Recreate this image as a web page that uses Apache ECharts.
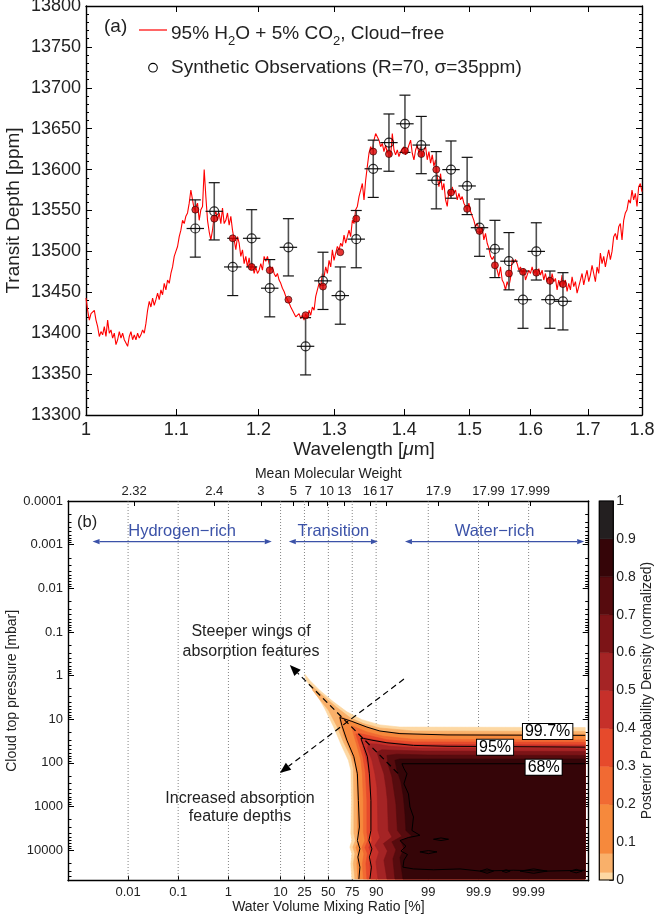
<!DOCTYPE html>
<html>
<head>
<meta charset="utf-8">
<script src="https://cdn.jsdelivr.net/npm/echarts@6/dist/echarts.min.js"></script>
<style>
html,body{margin:0;padding:0;background:#ffffff;}
#chart{width:654px;height:917px;}
</style>
</head>
<body>
<div id="chart"></div>
<script>
// ================= Panel (a): transmission spectrum =================
const wavelengthTicks = [1, 1.1, 1.2, 1.3, 1.4, 1.5, 1.6, 1.7, 1.8];
const depthRange = [13300, 13800];
const depthStep = 50;
// model spectrum, sampled uniformly in log(wavelength) between these limits
const specLambdaRange = [1.0, 1.8];
const specDepth = [
13443,13428,13416,13424,13426,13428,13416,13408,13396,13402,
13398,13408,13396,13416,13400,13404,13394,13400,13386,13392,
13402,13394,13400,13392,13388,13384,13396,13402,13392,13398,
13392,13400,13394,13398,13404,13400,13412,13428,13439,13432,
13443,13434,13441,13449,13441,13453,13447,13461,13453,13465,
13461,13473,13481,13494,13500,13506,13518,13526,13538,13534,
13543,13547,13559,13575,13563,13551,13555,13559,13538,13551,
13555,13600,13567,13538,13524,13514,13526,13543,13549,13538,
13547,13534,13553,13534,13538,13547,13532,13543,13526,13514,
13502,13518,13510,13494,13502,13485,13494,13481,13492,13477,
13485,13473,13481,13473,13477,13485,13477,13494,13488,13494,
13485,13477,13481,13473,13469,13473,13465,13461,13455,13451,
13445,13447,13437,13432,13428,13424,13420,13418,13424,13418,
13422,13416,13424,13418,13428,13422,13432,13428,13445,13453,
13461,13457,13473,13469,13481,13473,13489,13481,13502,13489,
13498,13506,13502,13510,13506,13520,13510,13518,13526,13518,
13538,13534,13551,13555,13567,13575,13583,13563,13587,
13604,13620,13628,13624,13636,13644,13646,13636,13628,13632,
13622,13630,13620,13628,13616,13644,13624,13618,13624,13616,
13622,13620,13628,13618,13624,13622,13636,13620,13612,13624,
13630,13620,13628,13616,13624,13628,13612,13622,13608,13618,
13604,13612,13591,13579,13595,13575,13583,13563,13555,13575,
13567,13579,13571,13575,13563,13571,13563,13567,13559,13555,
13551,13559,13549,13547,13538,13530,13534,13528,13522,13530,
13514,13522,13510,13504,13494,13490,13494,13483,13477,13469,
13481,13465,13461,13453,13463,13457,13467,13490,13486,13490,
13485,13477,13481,13473,13479,13465,13471,13477,13473,13481,
13473,13477,13471,13479,13471,13477,13465,13473,13463,13469,
13459,13473,13463,13467,13453,13465,13457,13471,13459,13465,
13451,13461,13453,13469,13457,13463,13449,13457,13465,13473,
13459,13469,13477,13463,13471,13483,13473,13463,13481,13473,
13498,13485,13494,13481,13492,13502,13490,13500,13518,13522,
13514,13530,13534,13514,13538,13547,13551,13563,13559,13575,
13563,13571,13555,13579,13583,13573
];
const obsLambda = [1.1225,1.1452,1.1678,1.1914,1.2144,1.2386,1.2613,1.2847,1.3084,1.3307,1.3548,1.3775,
                   1.4010,1.4254,1.4482,1.4709,1.4962,1.5159,1.5408,1.5638,1.5872,1.6097,1.6331,1.6557];
const obsDepth = [13528,13549,13481,13516,13455,13505,13384,13464,13446,13515,13601,13633,
                  13656,13630,13587,13600,13580,13529,13503,13488,13441,13500,13441,13439];
const obsSigma = [35,35,35,35,35,35,35,35,35,35,35,35,35,35,35,35,35,35,35,35,35,35,35,35];
const binnedModel = [13551,13540,13516,13481,13477,13441,13422,13457,13499,13540,13622,13619,
                     13623,13619,13600,13572,13552,13525,13483,13473,13475,13474,13464,13460];
const obsBinHalfWidthLog = 0.004;   // half bin width in log10(wavelength)

// ================= Panel (b): posterior of cloud top pressure vs water VMR =================
const wvmrTicks = [0.01, 0.1, 1, 10, 25, 50, 75, 90, 99, 99.9, 99.99];          // %
const mmwTickLabels = ['2.32','2.4','3','5','7','10','13','16','17','17.9','17.99','17.999'];
const mmwTickPos = [-3.88,-2.28,-1.35,-0.70,-0.40,-0.03,0.32,0.83,1.16,2.20,3.20,4.03]; // logit10 of VMR
const pressureTickExp = [-4,-3,-2,-1,0,1,2,3,4];
const pressureTickLabels = ['0.0001','0.001','0.01','0.1','1','10','100','1000','10000'];
const logitRange = [-5.2, 5.2];
const logPRange = [-4, 4.7];
const densityLevels = [0, 0.02, 0.07, 0.2, 0.3, 0.4, 0.5, 0.6, 0.7, 0.8, 0.9, 1];
const densityColors = ['#fdd8a3','#f9b06a','#f6893c','#f16a33','#e64a2c','#c6302a',
                       '#a52425','#7c1417','#560b0e','#350508','#231f20'];
// filled contour regions (x: log10(f/(1-f)) of water VMR, y: log10 pressure [mbar])
const fillLevel1 = [[5.13,1.19],[1.43,1.18],[1.03,1.13],[0.67,1.01],[0.37,0.83],[0.10,0.60],[-0.17,0.34],[-0.37,0.11],[-0.47,-0.03],[-0.45,0.09],[-0.35,0.27],[-0.20,0.50],[-0.07,0.76],[0.10,1.16],[0.27,1.62],[0.40,1.94],[0.45,2.17],[0.46,2.86],[0.45,3.62],[0.47,3.78],[0.43,3.93],[0.47,4.08],[0.45,4.31],[0.47,4.66],[5.13,4.66]];
const fillLevel2 = [[5.13,1.28],[1.70,1.27],[1.03,1.20],[0.70,1.10],[0.43,0.96],[0.17,0.73],[-0.10,0.47],[-0.30,0.27],[-0.35,0.22],[-0.31,0.34],[-0.17,0.55],[0.00,0.79],[0.17,1.16],[0.31,1.54],[0.45,1.86],[0.50,2.13],[0.51,2.86],[0.51,3.62],[0.54,3.78],[0.49,3.93],[0.53,4.08],[0.50,4.31],[0.53,4.66],[5.13,4.66]];
const fillLevel3 = [[5.13,1.35],[1.70,1.34],[1.03,1.28],[0.70,1.15],[0.40,1.01],[0.22,0.92],[0.23,1.04],[0.31,1.37],[0.45,1.75],[0.54,2.06],[0.57,2.32],[0.58,2.86],[0.58,3.59],[0.61,3.78],[0.55,3.94],[0.59,4.08],[0.57,4.31],[0.59,4.66],[5.13,4.66]];
const fillLevel4 = [[5.13,1.47],[1.70,1.46],[1.10,1.39],[0.77,1.29],[0.53,1.18],[0.47,1.16],[0.50,1.33],[0.58,1.64],[0.65,1.94],[0.68,2.25],[0.70,2.86],[0.70,3.59],[0.73,3.78],[0.67,3.94],[0.71,4.08],[0.68,4.31],[0.70,4.66],[5.13,4.66]];
const fillLevel5 = [[5.13,1.53],[1.70,1.52],[1.17,1.47],[0.83,1.38],[0.63,1.33],[0.55,1.34],[0.62,1.60],[0.69,1.86],[0.74,2.21],[0.77,2.86],[0.77,3.59],[0.79,3.78],[0.73,3.94],[0.78,4.08],[0.75,4.31],[0.77,4.66],[5.13,4.66]];
const fillLevel6 = [[5.13,1.59],[1.70,1.58],[1.17,1.53],[0.87,1.46],[0.70,1.42],[0.65,1.47],[0.71,1.71],[0.78,2.02],[0.82,2.32],[0.85,2.86],[0.85,3.59],[0.87,3.78],[0.81,3.94],[0.86,4.08],[0.83,4.31],[0.85,4.66],[5.13,4.66]];
const fillLevel7 = [[5.13,1.67],[1.83,1.66],[1.23,1.62],[0.97,1.57],[0.80,1.56],[0.78,1.67],[0.87,1.94],[0.93,2.25],[0.97,2.55],[0.98,2.86],[0.99,3.55],[1.03,3.71],[0.93,3.89],[1.01,4.04],[0.95,4.27],[0.99,4.66],[5.13,4.66]];
const fillLevel8 = [[5.13,1.74],[1.90,1.73],[1.30,1.71],[1.07,1.70],[0.97,1.75],[1.03,1.98],[1.11,2.25],[1.15,2.55],[1.18,2.86],[1.20,3.55],[1.27,3.70],[1.10,3.85],[1.18,4.02],[1.11,4.23],[1.17,4.66],[5.13,4.66]];
const fillLevel9 = [[5.13,1.83],[1.97,1.82],[1.37,1.80],[1.17,1.83],[1.20,2.06],[1.27,2.32],[1.31,2.63],[1.35,2.94],[1.38,3.55],[1.47,3.68],[1.27,3.81],[1.35,3.99],[1.29,4.20],[1.33,4.66],[5.13,4.66]];
const fillLevel10 = [[5.13,1.91],[2.03,1.91],[1.43,1.91],[1.33,1.94],[1.37,2.17],[1.45,2.44],[1.50,2.78],[1.53,3.16],[1.55,3.55],[1.67,3.68],[1.45,3.79],[1.51,3.97],[1.43,4.17],[1.49,4.66],[5.13,4.66]];
// credible-region contour lines
const contour997 = [[5.13,1.37],[2.37,1.36],[1.43,1.33],[1.03,1.27],[0.77,1.18],[0.47,1.05],[0.23,0.96],[0.27,1.14],[0.37,1.48],[0.51,1.86],[0.58,2.25],[0.60,2.86],[0.62,3.47],[0.58,3.78],[0.63,3.97],[0.59,4.16],[0.63,4.39],[0.61,4.66]];
const contour95 = [[5.13,1.64],[2.37,1.62],[1.70,1.60],[1.17,1.54],[0.87,1.48],[0.70,1.44],[0.65,1.44],[0.70,1.60],[0.78,1.86],[0.82,2.25],[0.85,2.86],[0.85,3.55],[0.81,3.78],[0.87,3.97],[0.82,4.16],[0.86,4.39],[0.83,4.66]];
const contour68 = [[5.13,2.02],[1.47,2.02],[1.51,2.13],[1.57,2.25],[1.51,2.48],[1.60,2.71],[1.63,3.01],[1.70,3.24],[1.67,3.55],[1.83,3.66],[1.60,3.71],[1.43,3.78],[1.55,3.91],[1.45,4.02],[1.58,4.10],[1.51,4.23],[1.49,4.39],[1.70,4.43],[2.10,4.45],[2.63,4.43],[3.03,4.48],[3.70,4.46],[4.37,4.48],[5.13,4.46]];
const contour68Islands = [
  [[2.10,3.75],[2.25,3.72],[2.40,3.75],[2.25,3.78]],
  [[1.83,4.04],[2.00,4.01],[2.17,4.04],[2.00,4.08]],
  [[3.03,4.48],[3.17,4.43],[3.30,4.48],[3.17,4.53]],
  [[3.47,4.48],[3.55,4.45],[3.63,4.48],[3.55,4.51]],
  [[3.83,4.48],[4.10,4.43],[4.37,4.48],[4.10,4.53]],
  [[4.83,4.48],[4.95,4.44],[5.07,4.48],[4.95,4.52]]
];
const contourLabelText = ['99.7%', '95%', '68%'];
const contourLabelPos = [[4.38,1.28],[3.33,1.64],[4.30,2.10]];
// annotation arrows [fromX, fromLogP, toX, toLogP]
const annotArrows = [[1.39, 2.24, -0.77, -0.24], [1.51, 0.08, -0.97, 2.23]];
const regionNames = ['Hydrogen−rich', 'Transition', 'Water−rich'];
const regionSpans = [[-4.71, -1.13], [-0.79, 0.99], [1.53, 5.11]];
const regionLogP = -3.07;

// ================= build =================
const FONT = '"Liberation Sans", Arial, Helvetica, sans-serif';
const TXT = '#222222';
const log10 = Math.log10;
const logit = p => log10(p / (100 - p));
const fillPolys = [fillLevel1, fillLevel2, fillLevel3, fillLevel4, fillLevel5,
                   fillLevel6, fillLevel7, fillLevel8, fillLevel9, fillLevel10];
const contourLines = [contour997, contour95, contour68];
const wvmrPos = wvmrTicks.map(logit);
const wlPos = wavelengthTicks.map(log10);
const lgMin = log10(specLambdaRange[0]), lgMax = log10(specLambdaRange[1]);
const specData = specDepth.map((v, i) => [lgMin + (lgMax - lgMin) * i / (specDepth.length - 1), v]);
const pMinor = [];
for (let e = -4; e <= 4; e++) for (let k = 2; k <= 9; k++) { const v = e + log10(k); if (v <= logPRange[1] + 1e-9) pMinor.push(v); }

function pickLabel(v, pos, labels) {
  let best = 0, bd = Infinity;
  pos.forEach((p, i) => { const d = Math.abs(p - v); if (d < bd) { bd = d; best = i; } });
  return labels[best];
}
function head(p, q, len, wid) {
  const dx = q[0] - p[0], dy = q[1] - p[1], L = Math.hypot(dx, dy), ux = dx / L, uy = dy / L;
  const bx = q[0] - ux * len, by = q[1] - uy * len;
  return { pts: [[q[0], q[1]], [bx - uy * wid, by + ux * wid], [bx + uy * wid, by - ux * wid]], base: [bx, by] };
}

const axisLineA = { show: true, onZero: false, lineStyle: { color: '#000', width: 1.4 } };
const noLine = { show: false, onZero: false };
const gridLinesB = {
  type: 'custom', xAxisIndex: 2, yAxisIndex: 2, silent: true, z: 1,
  data: wvmrPos.map(v => [v, 0]),
  renderItem: (params, api) => {
    const a = api.coord([api.value(0), logPRange[0]]), b = api.coord([api.value(0), logPRange[1]]);
    return { type: 'line', shape: { x1: a[0], y1: a[1], x2: b[0], y2: b[1] },
             style: { stroke: '#666', lineWidth: 0.8, lineDash: [1, 2] } };
  }
};

const option = {
  animation: false,
  backgroundColor: '#ffffff',
  textStyle: { fontFamily: FONT },
  grid: [
    { left: 86, top: 6, width: 556, height: 409, containLabel: false, outerBoundsMode: 'none' },
    { left: 68, top: 501, width: 520.7, height: 379.7, containLabel: false, outerBoundsMode: 'none' },
    { left: 599.3, top: 501, width: 14, height: 379, containLabel: false, outerBoundsMode: 'none' }
  ],
  xAxis: [
    { type: 'value', gridIndex: 0, position: 'bottom', min: lgMin, max: lgMax,
      axisLine: axisLineA, splitLine: { show: false },
      axisTick: { inside: true, length: 6, customValues: wlPos, lineStyle: { color: '#000' } },
      axisLabel: { customValues: wlPos, formatter: v => String(pickLabel(v, wlPos, wavelengthTicks)), fontSize: 18, color: TXT, margin: 6, fontFamily: FONT },
      name: 'Wavelength [{i|μ}m]', nameLocation: 'middle', nameGap: 22,
      nameTextStyle: { fontSize: 19, color: TXT, fontFamily: FONT, rich: { i: { fontStyle: 'italic', fontSize: 19, fontFamily: FONT, color: TXT } } } },
    { type: 'value', gridIndex: 0, position: 'top', min: lgMin, max: lgMax,
      axisLine: axisLineA, splitLine: { show: false },
      axisTick: { inside: true, length: 6, customValues: wlPos, lineStyle: { color: '#000' } },
      axisLabel: { show: false } },
    { type: 'value', gridIndex: 1, position: 'bottom', min: logitRange[0], max: logitRange[1],
      axisLine: axisLineA, splitLine: { show: false },
      axisTick: { inside: true, length: 5, customValues: wvmrPos, lineStyle: { color: '#000' } },
      axisLabel: { customValues: wvmrPos, formatter: v => String(pickLabel(v, wvmrPos, wvmrTicks)), fontSize: 13, color: TXT, margin: 5, fontFamily: FONT },
      name: 'Water Volume Mixing Ratio [%]', nameLocation: 'middle', nameGap: 19,
      nameTextStyle: { fontSize: 14, color: TXT, fontFamily: FONT } },
    { type: 'value', gridIndex: 1, position: 'top', min: logitRange[0], max: logitRange[1],
      axisLine: axisLineA, splitLine: { show: false },
      axisTick: { inside: true, length: 5, customValues: mmwTickPos, lineStyle: { color: '#000' } },
      axisLabel: { customValues: mmwTickPos, formatter: v => pickLabel(v, mmwTickPos, mmwTickLabels), fontSize: 13, color: TXT, margin: 3, fontFamily: FONT },
      name: 'Mean Molecular Weight', nameLocation: 'middle', nameGap: 20,
      nameTextStyle: { fontSize: 14, color: TXT, fontFamily: FONT } },
    { type: 'value', gridIndex: 2, min: 0, max: 1, show: false, axisLine: noLine }
  ],
  yAxis: [
    { type: 'value', gridIndex: 0, position: 'left', min: depthRange[0], max: depthRange[1], interval: depthStep,
      axisLine: axisLineA, splitLine: { show: false },
      axisTick: { inside: true, length: 6, lineStyle: { color: '#000' } },
      minorTick: { show: true, splitNumber: 5, length: 3, lineStyle: { color: '#000' } },
      axisLabel: { fontSize: 18, color: TXT, margin: 5, formatter: v => String(v), fontFamily: FONT },
      name: 'Transit Depth [ppm]', nameLocation: 'middle', nameGap: 63, nameRotate: 90, nameMoveOverlap: false,
      nameTextStyle: { fontSize: 19, color: TXT, fontFamily: FONT } },
    { type: 'value', gridIndex: 0, position: 'right', min: depthRange[0], max: depthRange[1], interval: depthStep,
      axisLine: axisLineA, splitLine: { show: false },
      axisTick: { inside: true, length: 6, lineStyle: { color: '#000' } },
      minorTick: { show: true, splitNumber: 5, length: 3, lineStyle: { color: '#000' } },
      axisLabel: { show: false } },
    { type: 'value', gridIndex: 1, position: 'left', min: logPRange[0], max: logPRange[1], inverse: true,
      axisLine: axisLineA, splitLine: { show: false },
      axisTick: { inside: true, length: 6, customValues: pressureTickExp, lineStyle: { color: '#000' } },
      axisLabel: { customValues: pressureTickExp, formatter: v => pickLabel(v, pressureTickExp, pressureTickLabels), fontSize: 13, color: TXT, margin: 5, fontFamily: FONT },
      name: 'Cloud top pressure [mbar]', nameLocation: 'middle', nameGap: 49, nameRotate: 90, nameMoveOverlap: false,
      nameTextStyle: { fontSize: 14, color: TXT, fontFamily: FONT } },
    { type: 'value', gridIndex: 1, position: 'left', min: logPRange[0], max: logPRange[1], inverse: true,
      axisLine: noLine, splitLine: { show: false },
      axisTick: { inside: true, length: 3.5, customValues: pMinor, lineStyle: { color: '#000' } },
      axisLabel: { show: false } },
    { type: 'value', gridIndex: 1, position: 'right', min: logPRange[0], max: logPRange[1], inverse: true,
      axisLine: axisLineA, splitLine: { show: false },
      axisTick: { inside: true, length: 6, customValues: pressureTickExp, lineStyle: { color: '#000' } },
      axisLabel: { show: false } },
    { type: 'value', gridIndex: 1, position: 'right', min: logPRange[0], max: logPRange[1], inverse: true,
      axisLine: noLine, splitLine: { show: false },
      axisTick: { inside: true, length: 3.5, customValues: pMinor, lineStyle: { color: '#000' } },
      axisLabel: { show: false } },
    { type: 'value', gridIndex: 2, position: 'right', min: 0, max: 1, interval: 0.1,
      axisLine: noLine, splitLine: { show: false },
      axisTick: { inside: true, length: 4, lineStyle: { color: '#000' } },
      axisLabel: { fontSize: 14, color: TXT, margin: 3, formatter: v => String(Math.round(v * 10) / 10), fontFamily: FONT },
      name: 'Posterior Probability Density (normalized)', nameLocation: 'middle', nameGap: 20, nameRotate: 90,
      nameTextStyle: { fontSize: 14, color: TXT, fontFamily: FONT } }
  ],
  series: [
    // ---- panel a ----
    { type: 'line', xAxisIndex: 0, yAxisIndex: 0, data: specData, showSymbol: false, silent: true,
      lineStyle: { color: '#ff0000', width: 1.1 }, z: 2 },
    { type: 'custom', xAxisIndex: 0, yAxisIndex: 0, silent: true, z: 3,
      data: obsLambda.map((l, i) => [log10(l), obsDepth[i], obsSigma[i]]),
      renderItem: (params, api) => {
        const x = api.value(0), y = api.value(1), s = api.value(2);
        const t = api.coord([x, y + s]), b = api.coord([x, y - s]);
        const l = api.coord([x - obsBinHalfWidthLog, y]), r = api.coord([x + obsBinHalfWidthLog, y]);
        const cap = 5.5;
        const st = { stroke: '#111', lineWidth: 1.2 };
        return { type: 'group', children: [
          { type: 'line', shape: { x1: t[0], y1: t[1], x2: b[0], y2: b[1] }, style: { stroke: '#505050', lineWidth: 1.6 } },
          { type: 'line', shape: { x1: t[0] - cap, y1: t[1], x2: t[0] + cap, y2: t[1] }, style: st },
          { type: 'line', shape: { x1: b[0] - cap, y1: b[1], x2: b[0] + cap, y2: b[1] }, style: st },
          { type: 'line', shape: { x1: l[0], y1: l[1], x2: r[0], y2: r[1] }, style: st }
        ] };
      } },
    { type: 'scatter', xAxisIndex: 0, yAxisIndex: 0, silent: true, z: 4,
      data: obsLambda.map((l, i) => [log10(l), obsDepth[i]]),
      symbol: 'circle', symbolSize: 9,
      itemStyle: { color: 'rgba(0,0,0,0)', borderColor: '#000', borderWidth: 1.2 } },
    { type: 'scatter', xAxisIndex: 0, yAxisIndex: 0, silent: true, z: 5,
      data: obsLambda.map((l, i) => [log10(l), binnedModel[i]]),
      symbol: 'circle', symbolSize: 7,
      itemStyle: { color: '#e00000', borderColor: '#2a0000', borderWidth: 0.8 } },
    // ---- panel b ----
    gridLinesB,
    { type: 'custom', xAxisIndex: 2, yAxisIndex: 2, silent: true, z: 2, clip: true,
      data: fillPolys.map((p, i) => [p[0][0], p[0][1], i]),
      renderItem: (params, api) => {
        const i = api.value(2);
        const pts = fillPolys[i].map(p => api.coord(p));
        return { type: 'polygon', shape: { points: pts },
                 style: { fill: densityColors[i], stroke: densityColors[i], lineWidth: 0.6 } };
      } },
    { type: 'custom', xAxisIndex: 2, yAxisIndex: 2, silent: true, z: 3, clip: true,
      data: contourLines.map((p, i) => [p[0][0], p[0][1], i, 0])
              .concat(contour68Islands.map((p, i) => [p[0][0], p[0][1], i, 1])),
      renderItem: (params, api) => {
        const i = api.value(2), closed = api.value(3);
        const src = closed ? contour68Islands[i] : contourLines[i];
        const pts = src.map(p => api.coord(p));
        return { type: closed ? 'polygon' : 'polyline', shape: { points: pts },
                 style: { stroke: '#000', fill: 'none', lineWidth: 1 } };
      } },
    { type: 'custom', xAxisIndex: 2, yAxisIndex: 2, silent: true, z: 4,
      data: annotArrows.map(a => a.slice()),
      renderItem: (params, api) => {
        const p = api.coord([api.value(0), api.value(1)]), q = api.coord([api.value(2), api.value(3)]);
        const h = head(p, q, 11, 4.5);
        return { type: 'group', children: [
          { type: 'line', shape: { x1: p[0], y1: p[1], x2: h.base[0], y2: h.base[1] },
            style: { stroke: '#000', lineWidth: 1.2, lineDash: [6, 4] } },
          { type: 'polygon', shape: { points: h.pts }, style: { fill: '#000' } }
        ] };
      } },
    { type: 'custom', xAxisIndex: 2, yAxisIndex: 2, silent: true, z: 5,
      data: regionSpans.map((s, i) => [s[0], regionLogP, s[1], i]),
      renderItem: (params, api) => {
        const a = api.coord([api.value(0), api.value(1)]), b = api.coord([api.value(2), api.value(1)]);
        const i = api.value(3);
        const c = '#3b52a8';
        const h1 = head(a, b, 7, 2.6), h2 = head(b, a, 7, 2.6);
        return { type: 'group', children: [
          { type: 'line', shape: { x1: h2.base[0], y1: a[1], x2: h1.base[0], y2: b[1] }, style: { stroke: c, lineWidth: 1.1 } },
          { type: 'polygon', shape: { points: h1.pts }, style: { fill: c } },
          { type: 'polygon', shape: { points: h2.pts }, style: { fill: c } },
          { type: 'text', style: { text: regionNames[i], x: (a[0] + b[0]) / 2, y: a[1] - 10,
              align: 'center', verticalAlign: 'middle', textAlign: 'center', textVerticalAlign: 'middle',
              font: '16.5px ' + FONT, fill: c } }
        ] };
      } },
    { type: 'custom', xAxisIndex: 2, yAxisIndex: 2, silent: true, z: 6,
      data: contourLabelPos.map((p, i) => [p[0], p[1], i]),
      renderItem: (params, api) => {
        const p = api.coord([api.value(0), api.value(1)]);
        return { type: 'text', style: { text: contourLabelText[api.value(2)], x: p[0], y: p[1],
            align: 'center', verticalAlign: 'middle', textAlign: 'center', textVerticalAlign: 'middle',
            font: '16px ' + FONT, fill: '#000', backgroundColor: '#fff', borderColor: '#000', borderWidth: 1,
            padding: [0, 2, -1, 2] } };
      } },
    // ---- colorbar ----
    { type: 'custom', xAxisIndex: 4, yAxisIndex: 6, silent: true, z: 2,
      data: densityColors.map((c, i) => [0, densityLevels[i], densityLevels[i + 1], i]),
      renderItem: (params, api) => {
        const p0 = api.coord([0, api.value(1)]), p1 = api.coord([1, api.value(2)]);
        return { type: 'rect', shape: { x: p0[0], y: p1[1], width: p1[0] - p0[0], height: p0[1] - p1[1] },
                 style: { fill: densityColors[api.value(3)], stroke: densityColors[api.value(3)], lineWidth: 0.5 } };
      } },
    { type: 'custom', xAxisIndex: 4, yAxisIndex: 6, silent: true, z: 3,
      data: [[0, 0, 1, 1]],
      renderItem: (params, api) => {
        const p0 = api.coord([0, 0]), p1 = api.coord([1, 1]);
        return { type: 'rect', shape: { x: p0[0], y: p1[1], width: p1[0] - p0[0], height: p0[1] - p1[1] },
                 style: { fill: 'none', stroke: '#000', lineWidth: 1.2 } };
      } }
  ],
  graphic: [
    { type: 'text', x: 104, y: 27, style: { text: '(a)', font: '19px ' + FONT, fill: TXT, align: 'left', verticalAlign: 'middle', textAlign: 'left', textVerticalAlign: 'middle' } },
    { type: 'line', shape: { x1: 139, y1: 30, x2: 167, y2: 30 }, style: { stroke: '#ff0000', lineWidth: 1.2 } },
    { type: 'text', x: 171, y: 34, style: { text: '95% H{s|2}O + 5% CO{s|2}, Cloud−free', font: '19px ' + FONT, fill: TXT,
        lineHeight: 28, align: 'left', verticalAlign: 'middle', textAlign: 'left', textVerticalAlign: 'middle',
        rich: { s: { font: '13px ' + FONT, fill: TXT, verticalAlign: 'bottom', lineHeight: 8 } } } },
    { type: 'circle', shape: { cx: 153, cy: 67.7, r: 4.3 }, style: { fill: 'none', stroke: '#000', lineWidth: 1.1 } },
    { type: 'text', x: 171, y: 68, style: { text: 'Synthetic Observations (R=70, σ=35ppm)', font: '19px ' + FONT, fill: TXT, align: 'left', verticalAlign: 'middle', textAlign: 'left', textVerticalAlign: 'middle' } },
    { type: 'text', x: 77, y: 522, style: { text: '(b)', font: '16.5px ' + FONT, fill: TXT, align: 'left', verticalAlign: 'middle', textAlign: 'left', textVerticalAlign: 'middle' } },
    { type: 'text', x: 251, y: 642, style: { text: 'Steeper wings of\nabsorption features', font: '16px ' + FONT, fill: TXT, lineHeight: 20, align: 'center', verticalAlign: 'middle', textAlign: 'center', textVerticalAlign: 'middle' } },
    { type: 'text', x: 240, y: 807.5, style: { text: 'Increased absorption\nfeature depths', font: '16px ' + FONT, fill: TXT, lineHeight: 18.5, align: 'center', verticalAlign: 'middle', textAlign: 'center', textVerticalAlign: 'middle' } }
  ]
};

const chart = echarts.init(document.getElementById('chart'), null, { renderer: 'canvas', width: 654, height: 917 });
chart.setOption(option);
</script>
</body>
</html>
